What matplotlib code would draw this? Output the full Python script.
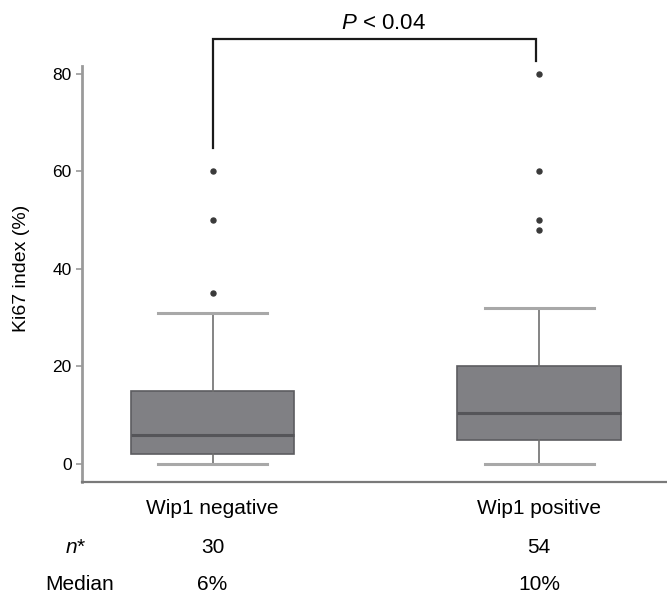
import numpy as np
import matplotlib.pyplot as plt
import matplotlib.transforms as mtransforms

plt.rcParams['font.family'] = ['Liberation Sans', 'DejaVu Sans']
plt.rcParams['mathtext.fontset'] = 'custom'
plt.rcParams['mathtext.rm'] = 'Liberation Sans'
plt.rcParams['mathtext.it'] = 'Liberation Sans:italic'

# data
groups = ['Wip1 negative', 'Wip1 positive']
q1 = [2, 5]
medians = [6, 10.4]
q3 = [15, 20]
whisk_lo = [0, 0]
whisk_hi = [31, 32]
fliers = [[35, 50, 60], [48, 50, 60, 80]]
n_counts = ['30', '54']
median_labels = ['6%', '10%']
p_text = '$P$ < 0.04'

fig = plt.figure(figsize=(6.67, 5.93), dpi=100)
ax = fig.add_axes([82 / 667, 1 - 482 / 593, 585 / 667, 416 / 593])

stats = []
for i in range(len(groups)):
    stats.append(dict(q1=q1[i], med=medians[i], q3=q3[i],
                      whislo=whisk_lo[i], whishi=whisk_hi[i],
                      fliers=fliers[i], label=groups[i]))

ax.bxp(stats, positions=[0, 1], widths=0.5, capwidths=0.334,
       patch_artist=True, showfliers=True,
       boxprops=dict(facecolor='#808084', edgecolor='#5c5c60', linewidth=1.2),
       medianprops=dict(color='#555559', linewidth=2.2),
       whiskerprops=dict(color='#707070', linewidth=1.2),
       capprops=dict(color='#a8a8a8', linewidth=2.2),
       flierprops=dict(marker='o', markersize=3.6, markerfacecolor='#3a3a3a',
                       markeredgecolor='#3a3a3a'))

ax.set_xlim(-0.40, 1.392)
ax.set_ylim(-3.7, 81.6)
ax.set_yticks([0, 20, 40, 60, 80])
ax.tick_params(axis='y', labelsize=12.5, length=4.5, width=1.2, color='#999999', pad=3)
ax.set_xticks([0, 1])
ax.set_xticklabels(groups, fontsize=15)
ax.tick_params(axis='x', length=0, pad=12)

for s in ['top', 'right']:
    ax.spines[s].set_visible(False)
ax.spines['left'].set_color('#9a9a9a')
ax.spines['left'].set_linewidth(2)
ax.spines['bottom'].set_color('#7a7a7a')
ax.spines['bottom'].set_linewidth(1.6)

ax.set_ylabel('Ki67 index (%)', fontsize=14)
ax.yaxis.set_label_coords(-0.089, 0.514)

# significance bracket
ax.plot([0, 0, 0.99, 0.99], [64.8, 87.2, 87.2, 82.7], color='#1a1a1a',
        linewidth=1.6, clip_on=False, solid_joinstyle='miter')
ax.text(0.524, 89.2, p_text, ha='center', va='baseline', fontsize=16)

# table under the axes
blend = mtransforms.blended_transform_factory(ax.transData, fig.transFigure)
for i in range(len(groups)):
    ax.text(i, 1 - 553 / 593, n_counts[i], transform=blend,
            ha='center', va='baseline', fontsize=15)
    ax.text(i, 1 - 590 / 593, median_labels[i], transform=blend,
            ha='center', va='baseline', fontsize=15)
fig.text(76 / 667, 1 - 553 / 593, '$n$*', ha='center', va='baseline', fontsize=15)
fig.text(80 / 667, 1 - 590 / 593, 'Median', ha='center', va='baseline', fontsize=15)

fig.savefig('out.png', dpi=100)
